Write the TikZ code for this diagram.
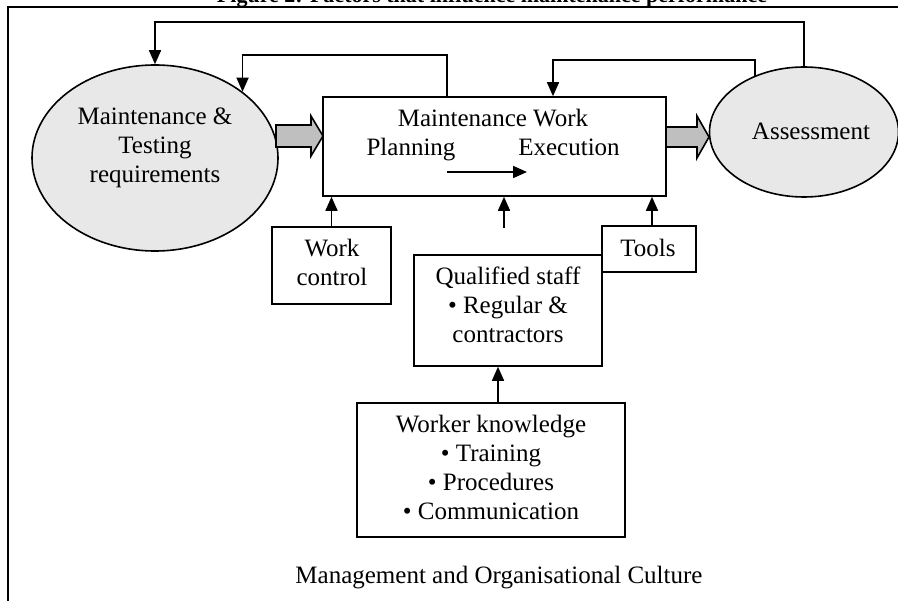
\documentclass[tikz,border=0pt]{standalone}
\usepackage{fontspec}
\setmainfont{Liberation Serif}
\usetikzlibrary{arrows.meta,shapes.geometric}
\definecolor{ovalfill}{gray}{0.91}
\definecolor{blkfill}{gray}{0.75}
\begin{document}
\begin{tikzpicture}[x=1pt,y=-1pt,
  font=\fontsize{25}{29}\selectfont,
  line width=1.6pt,
  box/.style={draw, fill=white, inner sep=0pt},
  oval/.style={draw, ellipse, fill=ovalfill, inner sep=0pt},
  txt/.style={anchor=base, align=center, inner sep=0pt},
  arr/.style={-{Triangle[width=12pt,length=14pt]}},
  blk/.style={draw, fill=blkfill, line join=miter}]
\useasboundingbox (0,0) rectangle (898,601);
% title (cut by the top edge)
\node[txt, font=\bfseries\fontsize{22}{26}\selectfont] (title) at (492,2.5) {Figure 2: Factors that influence maintenance performance};
% frame
\draw[line width=2pt] (8,601) -- (8,7) -- (898,7);
% shapes
\node[oval, minimum width=246, minimum height=186] (mtr) at (155,158) {};
\node[oval, minimum width=189, minimum height=130] (ass) at (804,132) {};
\node[box, minimum width=343, minimum height=99] (mw) at (494.5,146.5) {};
\node[box, minimum width=119, minimum height=77] (wc) at (331.5,265.5) {};
\node[box, minimum width=188, minimum height=111] (qs) at (508,310.5) {};
\node[box, minimum width=94, minimum height=46] (tools) at (649,249) {};
\node[box, minimum width=268, minimum height=134] (wk) at (491,470) {};
% texts (base anchor = baseline of the last line)
\node[txt] (mtrt) at (155,183) {Maintenance \&\\Testing\\requirements};
\node[txt] (asst) at (811,140) {Assessment};
\node[txt] (mwt) at (493,127) {Maintenance Work};
\node[txt] (plan) at (411,156) {Planning};
\node[txt] (exec) at (569,156) {Execution};
\node[txt] (wct) at (332,286) {Work\\control};
\node[txt] (qst) at (508,343) {Qualified staff\\\textbullet\ Regular \&\\contractors};
\node[txt] (toolst) at (648,257) {Tools};
\node[txt, font=\fontsize{25}{29.3}\selectfont] (wkt) at (491,520) {Worker knowledge\\\textbullet\ Training\\\textbullet\ Procedures\\\textbullet\ Communication};
\node[txt] (mgmt) at (499,584) {Management and Organisational Culture};
% inner arrow
\coordinate (pa) at (447,172);
\coordinate (pb) at (527,172);
\draw[arr] (pa) -- (pb);
% block arrows
\draw[blk] (276,125) -- (311,125) -- (311,116) -- (323,136) -- (311,156) -- (311,147) -- (276,147) -- cycle;
\draw[blk] (666,127) -- (697,127) -- (697,116) -- (709,137) -- (697,158) -- (697,147) -- (666,147) -- cycle;
% feedback lines
\coordinate (y1) at (0,22);
\coordinate (y2) at (0,55);
\coordinate (y3) at (0,60);
\draw[arr] (ass.north) -- (ass.north |- y1) -| (mtr.north);
\draw[arr] ([xshift=-47.5pt]mw.north) -- ([xshift=-47.5pt]mw.north |- y2) -| (mtr.north east);
\draw[arr] (ass.131) -- (ass.131 |- y3) -| ([xshift=58.5pt]mw.north);
% inputs
\coordinate (midfree) at (504,228);
\draw[arr] (wc.north) -- (wc.north |- mw.south);
\draw[arr] (midfree) -- (midfree |- mw.south);
\draw[arr] ([xshift=3pt]tools.north) -- ([xshift=3pt]tools.north |- mw.south);
\draw[arr] ([xshift=7pt]wk.north) -- ([xshift=7pt]wk.north |- qs.south);
\end{tikzpicture}
\end{document}
